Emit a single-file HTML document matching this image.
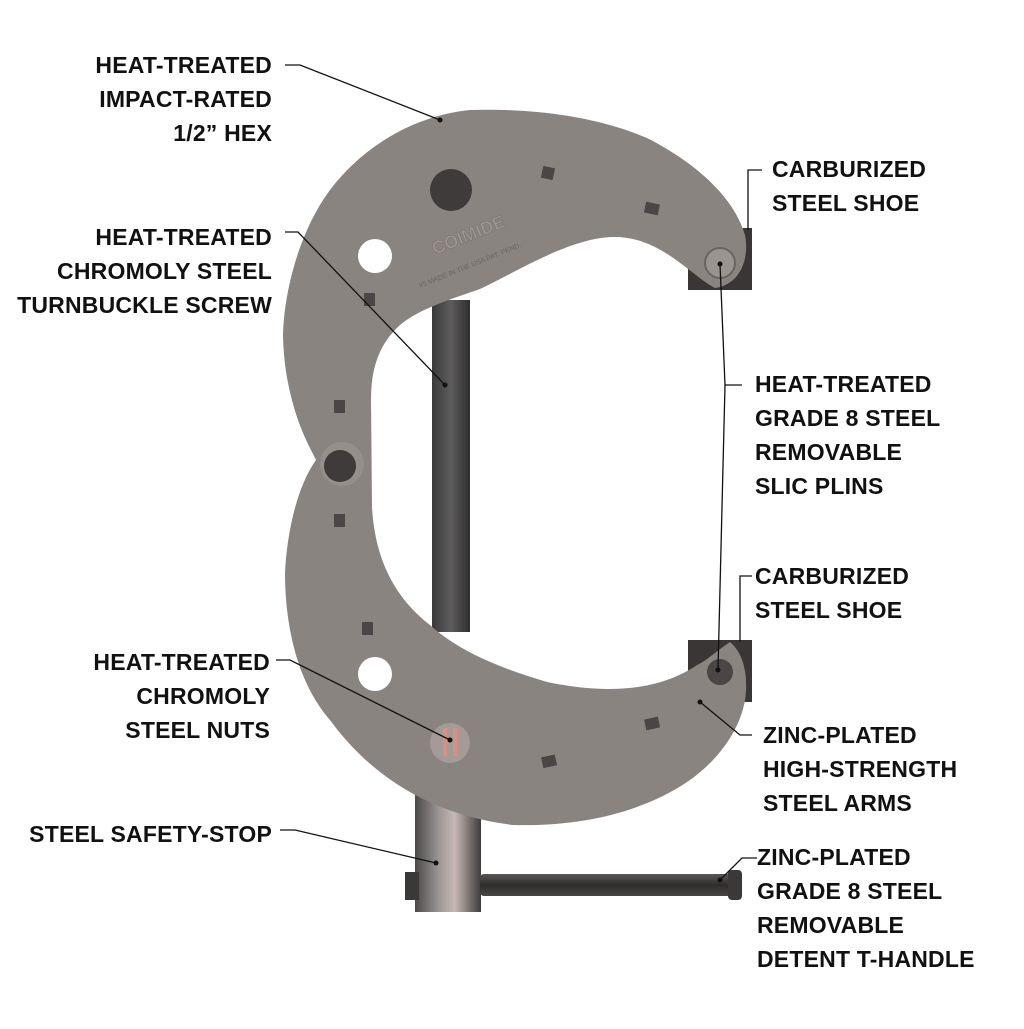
<!DOCTYPE html>
<html><head><meta charset="utf-8"><style>
html,body{margin:0;padding:0;background:#fff;}
.l{font-family:"Liberation Sans",sans-serif;font-weight:bold;font-size:23px;fill:#111;letter-spacing:0.2px;}
</style></head><body>
<svg width="1024" height="1024" viewBox="0 0 1024 1024" xmlns="http://www.w3.org/2000/svg">
<defs>
<linearGradient id="rod" x1="0" x2="1"><stop offset="0" stop-color="#3a3a3a"/><stop offset="0.5" stop-color="#5e5c5c"/><stop offset="1" stop-color="#2e2e2e"/></linearGradient>
<linearGradient id="cyl" x1="0" x2="1"><stop offset="0" stop-color="#4a4848"/><stop offset="0.35" stop-color="#9a9494"/><stop offset="0.6" stop-color="#c8b8b4"/><stop offset="1" stop-color="#3e3c3c"/></linearGradient>
<linearGradient id="hr" x1="0" y1="0" x2="0" y2="1"><stop offset="0" stop-color="#5a5656"/><stop offset="0.5" stop-color="#2e2c2c"/><stop offset="1" stop-color="#4a4646"/></linearGradient>
</defs>
<rect width="1024" height="1024" fill="#fff"/>
<!-- T handle -->
<rect x="415" y="790" width="66" height="122" fill="url(#cyl)"/>
<rect x="405" y="872" width="14" height="28" fill="#3b3838"/>
<rect x="480" y="874" width="258" height="22" rx="4" fill="url(#hr)"/>
<rect x="728" y="870" width="14" height="30" rx="4" fill="#3c3838"/>
<!-- screw -->
<rect x="432" y="300" width="38" height="332" fill="url(#rod)"/>
<!-- shoes -->
<rect x="688" y="228" width="64" height="62" fill="#3a3636"/>
<rect x="688" y="640" width="64" height="62" fill="#3a3636"/>
<!-- plate -->
<path fill="#8a8481" d="M745,235 C735,200 700,165 647,138 C600,118 540,108 470,110 C410,116 360,150 330,190 C300,230 284,290 283,336 C284,380 295,420 312,452 L316,460 C298,485 287,530 285,573 C285,620 295,680 330,720 C370,775 430,815 513,825 C590,827 650,808 690,780 C725,755 745,720 746,690 C747,670 742,652 730,642 C715,652 705,662 697,665 C660,690 610,695 547,682 C500,668 460,652 430,625 C395,598 375,560 372,507 L371,400 C371,370 378,345 400,325 C420,308 455,298 480,289 C520,270 570,238 613,237 C660,236 690,275 715,288 C738,285 750,262 745,235 Z"/>
<!-- holes and details -->
<circle cx="375" cy="256" r="17" fill="#fff"/>
<circle cx="375" cy="674" r="17" fill="#fff"/>
<circle cx="451" cy="190" r="21" fill="#3f3b3a"/>
<circle cx="342" cy="464" r="22" fill="#958f8c"/>
<circle cx="340" cy="466" r="16" fill="#3f3b3a"/>
<circle cx="450" cy="743" r="20" fill="#a49a97"/>
<rect x="443" y="728" width="4" height="28" fill="#d89080"/><rect x="453" y="728" width="4" height="28" fill="#d89080"/>
<circle cx="720" cy="263" r="15" fill="#9a9491" stroke="#6a6462" stroke-width="2"/>
<circle cx="720" cy="672" r="14" fill="#4a4645" stroke="#8a8481" stroke-width="2"/>
<g fill="#4a4645">
<rect x="542" y="167" width="12" height="12" transform="rotate(12 548 173)"/><rect x="645" y="203" width="14" height="11" transform="rotate(12 652 208)"/>
<rect x="364" y="293" width="11" height="13"/><rect x="334" y="400" width="11" height="13"/>
<rect x="334" y="514" width="11" height="13"/><rect x="362" y="622" width="11" height="13"/>
<rect x="542" y="756" width="14" height="11" transform="rotate(-12 548 761)"/><rect x="645" y="718" width="14" height="11" transform="rotate(-12 652 723)"/>
</g>
<text x="435" y="255" font-family="Liberation Sans" font-weight="bold" font-size="18" fill="#9c9692" stroke="#7a7470" stroke-width="0.6" transform="rotate(-22 435 255)">COIMIDE</text>
<text x="420" y="288" font-family="Liberation Sans" font-size="7" fill="#6a6462" transform="rotate(-22 420 288)">#5   MADE IN THE USA   PAT. PEND.</text>
<!-- leader lines -->
<g stroke="#111" stroke-width="1.3" fill="none">
<polyline points="285,65 300,65 440,120"/>
<polyline points="285,232 298,232 445,385"/>
<polyline points="762,170 748,170 748,230"/>
<polyline points="742,385 725,385 720,264"/>
<polyline points="725,385 718,670"/>
<polyline points="752,576 740,576 740,642"/>
<polyline points="276,660 290,660 450,740"/>
<polyline points="752,735 740,735 700,702"/>
<polyline points="280,830 295,830 436,863"/>
<polyline points="757,858 742,858 720,880"/>
</g>
<g fill="#111"><circle cx="440" cy="120" r="2.5"/><circle cx="445" cy="385" r="2.5"/><circle cx="720" cy="264" r="2.5"/><circle cx="718" cy="670" r="2.5"/><circle cx="450" cy="740" r="2.5"/><circle cx="700" cy="702" r="2.5"/><circle cx="436" cy="863" r="2.5"/><circle cx="720" cy="880" r="2.5"/></g>
<!-- labels -->
<g class="l">
<text x="272" y="73" text-anchor="end">HEAT-TREATED</text>
<text x="272" y="107" text-anchor="end">IMPACT-RATED</text>
<text x="272" y="141" text-anchor="end">1/2” HEX</text>
<text x="272" y="245" text-anchor="end">HEAT-TREATED</text>
<text x="272" y="279" text-anchor="end">CHROMOLY STEEL</text>
<text x="272" y="313" text-anchor="end">TURNBUCKLE SCREW</text>
<text x="772" y="177">CARBURIZED</text>
<text x="772" y="211">STEEL SHOE</text>
<text x="755" y="392">HEAT-TREATED</text>
<text x="755" y="426">GRADE 8 STEEL</text>
<text x="755" y="460">REMOVABLE</text>
<text x="755" y="494">SLIC PLINS</text>
<text x="755" y="584">CARBURIZED</text>
<text x="755" y="618">STEEL SHOE</text>
<text x="270" y="670" text-anchor="end">HEAT-TREATED</text>
<text x="270" y="704" text-anchor="end">CHROMOLY</text>
<text x="270" y="738" text-anchor="end">STEEL NUTS</text>
<text x="763" y="743">ZINC-PLATED</text>
<text x="763" y="777">HIGH-STRENGTH</text>
<text x="763" y="811">STEEL ARMS</text>
<text x="272" y="842" text-anchor="end">STEEL SAFETY-STOP</text>
<text x="757" y="865">ZINC-PLATED</text>
<text x="757" y="899">GRADE 8 STEEL</text>
<text x="757" y="933">REMOVABLE</text>
<text x="757" y="967">DETENT T-HANDLE</text>
</g>
</svg>
</body></html>
